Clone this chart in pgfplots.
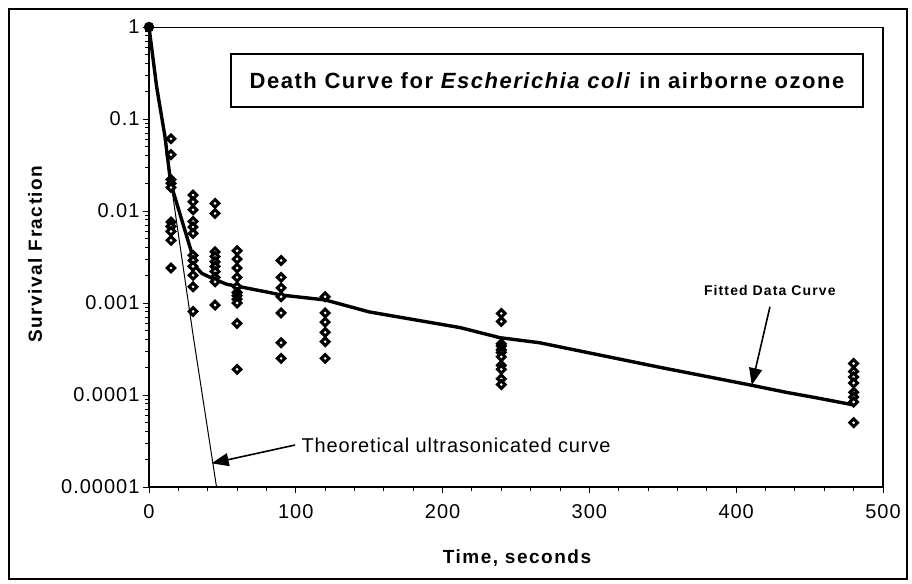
\documentclass[border=0pt]{standalone}
\usepackage{pgfplots}
\pgfplotsset{compat=1.18}
\usepackage{fontspec}
\setmainfont{Liberation Sans}
\newfontfamily\tickfont[LetterSpace=5]{Liberation Sans}
\newfontfamily\titlefont[LetterSpace=7]{Liberation Sans}
\newfontfamily\labfont[LetterSpace=8]{Liberation Sans}
\newfontfamily\annfont[LetterSpace=4.4]{Liberation Sans}
\newfontfamily\fitfont[LetterSpace=8]{Liberation Sans}
\usetikzlibrary{arrows.meta}
\pgfplotsset{diam/.style={only marks, mark=square*, mark size=2.7bp,
  every mark/.append style={solid, rotate=45, fill=white, draw=black, line width=3bp}}}
\begin{document}
\begin{tikzpicture}
\path[use as bounding box] (0,0) rectangle (912bp,584bp);
\draw[line width=2.5bp] (9bp,5bp) rectangle (907bp,575bp);
\begin{axis}[
  at={(149bp,97bp)}, anchor=south west,
  width=734bp, height=460bp, scale only axis,
  xmin=0, xmax=500, ymode=log, log basis y=10, ymin=1e-5, ymax=1,
  xtick={0,100,200,300,400,500}, minor x tick num=4,
  ytick={1e-5,1e-4,1e-3,1e-2,1e-1,1},
  yticklabels={0.00001,0.0001,0.001,0.01,0.1,1},
  minor ytick={2e-5,3e-5,4e-5,5e-5,6e-5,7e-5,8e-5,9e-5,
               2e-4,3e-4,4e-4,5e-4,6e-4,7e-4,8e-4,9e-4,
               2e-3,3e-3,4e-3,5e-3,6e-3,7e-3,8e-3,9e-3,
               2e-2,3e-2,4e-2,5e-2,6e-2,7e-2,8e-2,9e-2,
               2e-1,3e-1,4e-1,5e-1,6e-1,7e-1,8e-1,9e-1},
  xtick pos=bottom, ytick pos=left, tick align=outside,
  major tick length=6bp, minor tick length=4bp,
  tick style={line width=1bp, black},
  axis line style={line width=1bp},
  tick label style={font=\tickfont\fontsize{20bp}{24bp}\selectfont},
  xticklabel style={yshift=-8bp},
  /pgf/number format/assume math mode=true,
  clip=false,
]
% theoretical ultrasonicated curve
\addplot[black, line width=1bp, no marks] coordinates {
  (0,1) (18.9,0.0074) (30.2,0.00043) (46,0.00001)
};
% fitted data curve
\addplot[black, line width=3.4bp, no marks, line join=round] coordinates {
  (0,1) (5.2,0.224) (10.9,0.064) (14.8,0.020) (29.1,0.0035) (30.5,0.0026)
  (36,0.0021) (41.6,0.0019) (52.9,0.0016) (64,0.00148) (82,0.0013)
  (90,0.00122) (120,0.00108) (150,0.00080) (212,0.00054) (239,0.00042)
  (266,0.00037) (348,0.00020) (409,0.000129) (434,0.000107) (455,0.000093)
  (480,0.000078)
};
% data points
\addplot[diam] table {
x y
15 0.061
15 0.041
15 0.022
15 0.020
15 0.018
15 0.0076
15 0.0068
15 0.0060
15 0.0048
15 0.0024
30 0.0149
30 0.0126
30 0.0103
30 0.0077
30 0.0067
30 0.0057
30 0.0033
30 0.0029
30 0.0025
30 0.0020
30 0.0015
30 0.00081
45 0.0121
45 0.0094
45 0.0036
45 0.0032
45 0.0028
45 0.0025
45 0.0022
45 0.0019
45 0.0017
45 0.00095
60 0.0037
60 0.0030
60 0.0024
60 0.0019
60 0.0015
60 0.0013
60 0.0012
60 0.0011
60 0.0010
60 0.0006
60 0.00019
90 0.0029
90 0.0019
90 0.00146
90 0.00117
90 0.00078
90 0.00037
90 0.00025
120 0.00117
120 0.00078
120 0.00062
120 0.00048
120 0.00038
120 0.00025
240 0.00077
240 0.00063
240 0.00036
240 0.00034
240 0.00031
240 0.00029
240 0.00026
240 0.00021
240 0.00019
240 0.00015
240 0.00013
480 0.00022
480 0.00018
480 0.000157
480 0.000135
480 0.000107
480 0.000095
480 0.000084
480 0.00005
};
\addplot[only marks, mark=*, mark size=5bp, black] coordinates {(0,1)};
% thick frame lines
\draw[line width=2.4bp] (rel axis cs:0,1) -- (rel axis cs:0,0) -- (rel axis cs:1,0) -- (rel axis cs:1,1);
% annotations
\draw[line width=1.6bp, -{Triangle[length=17bp,width=13bp]}]
  (axis cs:99.5,2.86e-5) -- (axis cs:42.7,1.81e-5);
\node[anchor=west, inner sep=0pt, font=\annfont\fontsize{20bp}{24bp}\selectfont]
  at (axis cs:103.8,2.86e-5) {Theoretical ultrasonicated curve};
\draw[line width=1.6bp, -{Triangle[length=17bp,width=13bp]}]
  (axis cs:423,0.00091) -- (axis cs:410.6,0.000128);
\node[inner sep=0pt, font=\fitfont\bfseries\fontsize{14bp}{17bp}\selectfont]
  at (axis cs:422.9,0.00138) {Fitted Data Curve};
\end{axis}
\draw[line width=2bp] (231bp,477bp) rectangle (863bp,530bp);
\node[inner sep=0pt, font=\titlefont\bfseries\fontsize{22bp}{26bp}\selectfont]
  at (547bp,503.5bp) {Death Curve for \textit{Escherichia coli} in airborne ozone};
\node[rotate=90, inner sep=0pt, font=\labfont\bfseries\fontsize{19bp}{23bp}\selectfont]
  at (35bp,330bp) {Survival Fraction};
\node[inner sep=0pt, font=\labfont\bfseries\fontsize{19bp}{23bp}\selectfont]
  at (517bp,26bp) {Time, seconds};
\end{tikzpicture}
\end{document}
